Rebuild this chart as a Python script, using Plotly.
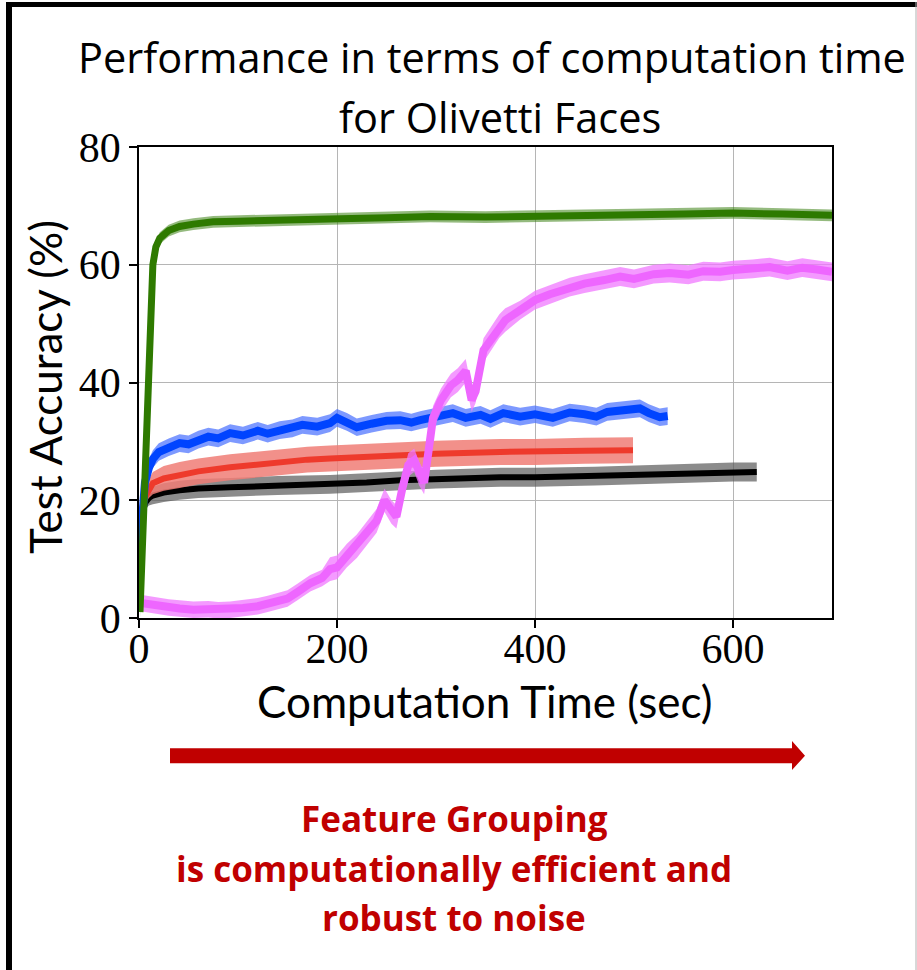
import plotly.graph_objects as go

# ---------------- data ----------------
green_t = [1, 3, 6, 9, 12, 14, 17, 21, 30, 41, 55, 75, 100, 130, 160, 203, 250, 294, 350, 400, 450, 500, 550, 600, 650, 700]
green_v = [1.0, 10.0, 19.5, 38.0, 54.0, 60.0, 63.0, 64.5, 65.8, 66.5, 66.9, 67.3, 67.4, 67.6, 67.7, 67.8, 68.0, 68.2, 68.1, 68.3, 68.4, 68.5, 68.6, 68.8, 68.6, 68.4]
green_hw = [1.0] * len(green_t)

blue_t = [1, 3, 6, 10, 14, 20, 30, 41, 50, 60, 70, 80, 92, 105, 120, 130, 142, 155, 165, 180, 193, 200, 210, 220,
          235, 250, 264, 275, 284, 300, 317, 330, 345, 355, 368, 385, 400, 418, 435, 450, 462, 473, 490, 506, 515, 526, 534]
blue_v = [12.0, 19.0, 23.0, 25.5, 27.0, 28.2, 29.0, 29.7, 29.5, 30.3, 30.8, 30.5, 31.4, 31.0, 31.8, 31.3, 31.9, 32.2, 32.8, 32.5, 33.1, 34.0, 33.3, 32.4,
          33.0, 33.5, 33.6, 33.2, 33.6, 34.2, 34.8, 34.0, 34.5, 33.8, 34.8, 34.2, 34.6, 34.0, 34.9, 34.6, 34.2, 35.0, 35.3, 35.6, 34.8, 34.1, 34.3]
blue_hw = [1.5] * len(blue_t)

red_t = [1, 3, 6, 10, 14, 25, 41, 60, 92, 120, 142, 170, 193, 230, 264, 300, 365, 400, 450, 499]
red_v = [12.0, 18.5, 20.5, 22.0, 22.9, 23.7, 24.3, 24.9, 25.6, 26.1, 26.5, 26.9, 27.1, 27.4, 27.7, 27.9, 28.2, 28.2, 28.4, 28.5]
red_hw = [0.6, 0.9, 1.2, 1.6, 1.9, 2.1, 2.2, 2.2, 2.2, 2.2, 2.2, 2.2, 2.2, 2.2, 2.2, 2.2, 2.2, 2.2, 2.2, 2.2]

black_t = [1, 3, 6, 10, 14, 25, 41, 60, 92, 140, 193, 230, 264, 300, 365, 400, 460, 519, 560, 600, 624]
black_v = [10.0, 17.0, 19.5, 20.4, 20.8, 21.3, 21.7, 22.0, 22.2, 22.5, 22.7, 23.0, 23.4, 23.6, 23.9, 23.9, 24.1, 24.4, 24.6, 24.8, 24.8]
black_hw = [0.5, 0.8, 1.0, 1.3, 1.5, 1.6, 1.6, 1.6, 1.6, 1.6, 1.6, 1.6, 1.6, 1.6, 1.6, 1.6, 1.6, 1.6, 1.6, 1.6, 1.6]

magenta_t = [0, 10, 20, 30, 41, 55, 70, 80, 92, 105, 120, 130, 142, 150, 160, 173, 185, 193, 200, 210, 220, 230,
             240, 248, 255, 260, 266, 272, 278, 283, 288, 293, 297, 305, 315, 322, 330, 336, 340, 348, 356, 364, 370,
             385, 400, 415, 435, 450, 470, 486, 500, 520, 536, 555, 570, 587, 600, 620, 637, 655, 670, 685, 700]
magenta_v = [2.6, 2.3, 2.0, 1.8, 1.6, 1.4, 1.5, 1.3, 1.4, 1.7, 2.0, 2.4, 3.0, 3.3, 4.4, 5.9, 6.8, 8.3, 8.6, 10.6, 12.2, 14.4,
             16.5, 20.0, 18.0, 17.2, 22.0, 26.0, 26.8, 24.5, 23.0, 29.0, 34.0, 37.0, 39.5, 40.4, 42.0, 37.0, 38.5, 45.5, 47.5, 49.6, 50.6,
             52.3, 54.0, 55.0, 56.2, 56.8, 57.4, 58.0, 57.6, 58.4, 58.6, 58.3, 58.9, 58.8, 59.1, 59.3, 59.6, 59.0, 59.5, 59.2, 58.8]
magenta_hw = [1.4] * 17 + [2.0] * 26 + [1.6] * 20

x_ticks = [0, 200, 400, 600]
y_ticks = [0, 20, 40, 60, 80]

title_lines = ["Performance in terms of computation time", "for Olivetti Faces"]
note_lines = ["Feature Grouping", "is computationally efficient and", "robust to noise"]

# ---------------- layout helpers (pixels -> paper) ----------------
W, H = 917, 970
X0, X1, Y0, Y1 = 139, 832, 147, 618


def px(x):
    return (x - X0) / (X1 - X0)


def py(y):
    return (Y1 - y) / (Y1 - Y0)


fig = go.Figure()


def add_series(t, v, hw, core, band, width):
    lo = [a - b for a, b in zip(v, hw)]
    hi = [a + b for a, b in zip(v, hw)]
    fig.add_trace(go.Scatter(x=t, y=lo, mode="lines", line=dict(width=0, color=band),
                             showlegend=False, hoverinfo="skip"))
    fig.add_trace(go.Scatter(x=t, y=hi, mode="lines", line=dict(width=0, color=band),
                             fill="tonexty", fillcolor=band, showlegend=False, hoverinfo="skip"))
    fig.add_trace(go.Scatter(x=t, y=v, mode="lines", line=dict(width=width, color=core),
                             showlegend=False))


add_series(black_t, black_v, black_hw, "#000000", "rgba(90,90,90,0.7)", 6)
add_series(red_t, red_v, red_hw, "#ee3a2c", "rgba(240,125,118,0.85)", 6)
add_series(blue_t, blue_v, blue_hw, "#0044ff", "rgba(70,110,255,0.7)", 8)
add_series(magenta_t, magenta_v, magenta_hw, "#ee66ff", "rgba(240,120,255,0.75)", 8)
add_series(green_t, green_v, green_hw, "#2e7a00", "rgba(60,130,20,0.55)", 7)

axis_common = dict(showgrid=True, gridcolor="#b5b5b5", gridwidth=1, showline=True, linecolor="black",
                   linewidth=1.5, mirror=True, ticks="outside", ticklen=8, tickcolor="black", tickwidth=1.5,
                   zeroline=False, tickfont=dict(family="Liberation Serif", size=42, color="black"))

fig.update_xaxes(range=[0, 700], tickvals=x_ticks, ticktext=[str(v) for v in x_ticks],
                 ticklabelstandoff=-15, **axis_common)
fig.update_yaxes(range=[0, 80], tickvals=y_ticks, ticktext=[str(v) for v in y_ticks], **axis_common)

title_font = dict(family="Open Sans", size=41.5, color="black")
note_font = dict(family="Open Sans", size=35, color="#c00000")
label_font = dict(family="Lato", size=44, color="black")

annotations = [
    dict(text=title_lines[0], x=px(491.5), y=py(57), font=title_font),
    dict(text=title_lines[1], x=px(499.5), y=py(117), font=title_font),
    dict(text="Computation Time (sec)", x=px(485), y=py(701), font=label_font),
    dict(text="Test Accuracy (%)", x=px(45), y=py(387), textangle=-90, font=label_font),
    dict(text="<b>" + note_lines[0] + "</b>", x=px(454), y=py(818), font=note_font),
    dict(text="<b>" + note_lines[1] + "</b>", x=px(454), y=py(868), font=note_font),
    dict(text="<b>" + note_lines[2] + "</b>", x=px(454), y=py(918), font=note_font),
]
for a in annotations:
    a.update(xref="paper", yref="paper", showarrow=False, xanchor="center", yanchor="middle")

shapes = [
    # red arrow
    dict(type="path", xref="paper", yref="paper", fillcolor="#c00000", line=dict(width=0),
         path=(f"M {px(170)} {py(748.3)} L {px(792)} {py(748.3)} L {px(792)} {py(741)} "
               f"L {px(805)} {py(755.7)} L {px(792)} {py(770)} L {px(792)} {py(763.3)} "
               f"L {px(170)} {py(763.3)} Z")),
    # image frame
    dict(type="rect", xref="paper", yref="paper", x0=px(6), x1=px(12), y0=py(2), y1=py(970),
         fillcolor="black", line=dict(width=0)),
    dict(type="rect", xref="paper", yref="paper", x0=px(6), x1=px(917), y0=py(2), y1=py(7),
         fillcolor="black", line=dict(width=0)),
    dict(type="line", xref="paper", yref="paper", x0=px(916), x1=px(916), y0=py(2), y1=py(970),
         line=dict(color="#b0b0b0", width=1)),
]

fig.update_layout(width=W, height=H, autosize=False,
                  margin=dict(l=X0, r=W - X1, t=Y0, b=H - Y1, pad=0),
                  paper_bgcolor="white", plot_bgcolor="white",
                  showlegend=False, annotations=annotations, shapes=shapes)

fig.write_html("out.html", config={"displayModeBar": False},
               post_script="document.body.style.margin = '0';")
